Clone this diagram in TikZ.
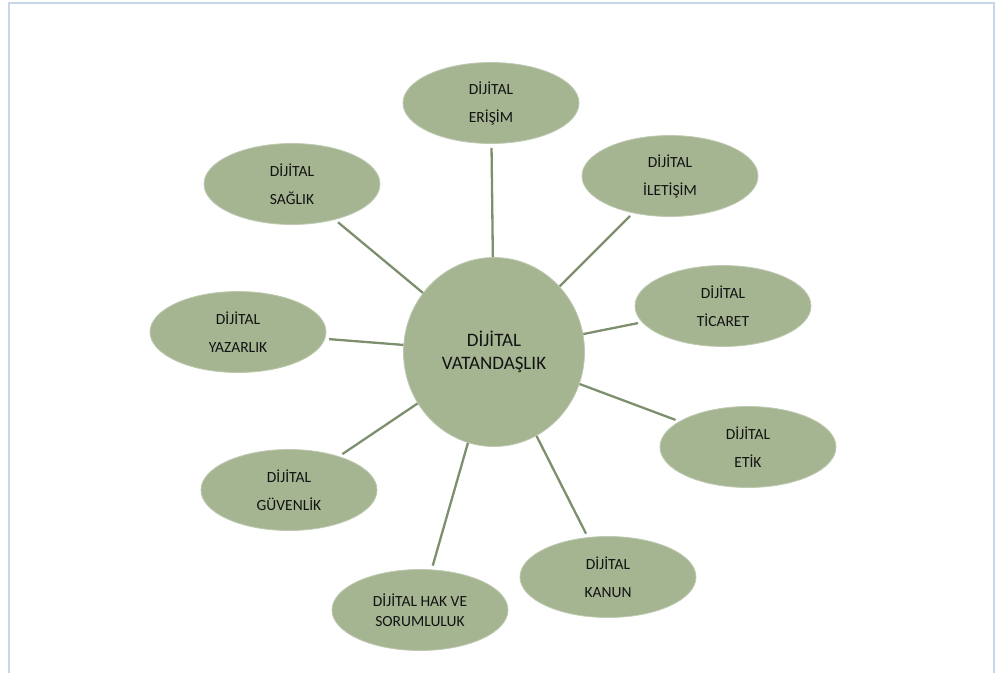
\documentclass[tikz,border=0pt]{standalone}
\usepackage{fontspec}
\setmainfont{Carlito}
\usetikzlibrary{shapes.geometric}
\definecolor{olivefill}{RGB}{165,181,146}
\definecolor{oliverim}{RGB}{190,201,176}
\definecolor{oliveline}{RGB}{126,143,110}
\definecolor{framegray}{RGB}{201,213,232}
\definecolor{labeltext}{RGB}{18,18,18}

\begin{document}
\begin{tikzpicture}[x=1pt,y=-1pt,
	topic/.style={ellipse,fill=olivefill,draw=oliverim,line width=0.8pt,minimum width=176pt,minimum height=81pt,inner sep=0pt,align=center,text=labeltext,font=\fontsize{15.5}{28}\selectfont},
	hub/.style={ellipse,fill=olivefill,draw=oliverim,line width=0.8pt,minimum width=181pt,minimum height=189pt,inner sep=0pt,align=center,text=labeltext,font=\fontsize{19}{23}\selectfont},
	link/.style={draw=oliveline,line width=2.3pt,shorten >=4pt}]
	\useasboundingbox (0,0) rectangle (997,673);
	\draw[framegray,line width=2pt] (9,673) -- (9,3) -- (994,3) -- (994,673);
	\node[hub] (vatandaslik) at (494,352) {DİJİTAL\\VATANDAŞLIK};
	\node[topic] (erisim) at (491,103) {DİJİTAL\\ERİŞİM};
	\node[topic] (saglik) at (292,184) {DİJİTAL\\SAĞLIK};
	\node[topic] (yazarlik) at (238,332) {DİJİTAL\\YAZARLIK};
	\node[topic] (iletisim) at (670,176) {DİJİTAL\\İLETİŞİM};
	\node[topic] (ticaret) at (723,306) {DİJİTAL\\TİCARET};
	\node[topic] (etik) at (748,447) {DİJİTAL\\ETİK};
	\node[topic] (guvenlik) at (289,490) {DİJİTAL\\GÜVENLİK};
	\node[topic,font=\fontsize{15.5}{20}\selectfont] (hakve) at (420,610) {DİJİTAL HAK VE\\SORUMLULUK};
	\node[topic] (kanun) at (608,577) {DİJİTAL\\KANUN};
	\foreach \leaf in {erisim,saglik,yazarlik,iletisim,ticaret,etik,guvenlik,hakve,kanun}
		\draw[link] (vatandaslik) -- (\leaf);
\end{tikzpicture}
\end{document}
